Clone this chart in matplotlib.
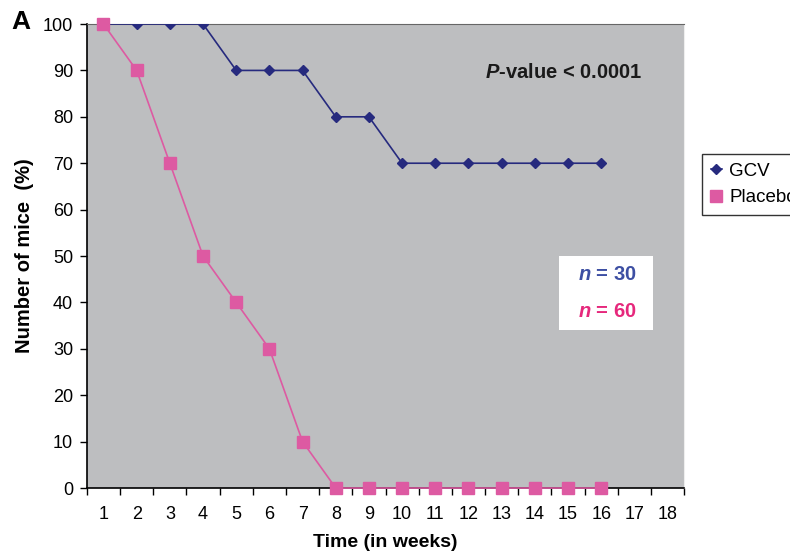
import matplotlib
matplotlib.use("Agg")
import matplotlib.pyplot as plt
from matplotlib.patches import Rectangle

plt.rcParams['font.family'] = ['Liberation Sans', 'DejaVu Sans']
plt.rcParams['mathtext.fontset'] = 'custom'
plt.rcParams['mathtext.bfit'] = 'Liberation Sans:italic:bold'
plt.rcParams['mathtext.bf'] = 'Liberation Sans:bold'
plt.rcParams['mathtext.rm'] = 'Liberation Sans'

# data
weeks = list(range(1, 17))
gcv = [100, 100, 100, 100, 90, 90, 90, 80, 80, 70, 70, 70, 70, 70, 70, 70]
placebo = [100, 90, 70, 50, 40, 30, 10, 0, 0, 0, 0, 0, 0, 0, 0, 0]
x_labels = [str(i) for i in range(1, 19)]
y_ticks = list(range(0, 101, 10))

navy = '#262a7e'
pink = '#dd5aa2'

fig = plt.figure(figsize=(7.9, 5.51), dpi=100)
ax = fig.add_axes([0.110, 0.1143, 0.756, 0.8421])
ax.set_facecolor('#bdbec0')

ax.plot(weeks, gcv, color=navy, lw=1.2, marker='D', ms=5.5,
        mfc=navy, mec=navy, label='GCV', zorder=3)
ax.plot(weeks, placebo, color=pink, lw=1.2, marker='s', ms=9,
        mfc=pink, mec=pink, label='Placebo', zorder=3, clip_on=False)

ax.set_xlim(0.5, 18.5)
ax.set_ylim(0, 100)
ax.set_yticks(y_ticks)
ax.set_xticks(range(1, 19))
ax.set_xticklabels(x_labels)
ax.set_xticks([i + 0.5 for i in range(0, 19)], minor=True)
ax.tick_params(axis='x', which='major', length=0, pad=13, labelsize=13)
ax.tick_params(axis='x', which='minor', length=5, width=1, direction='out')
ax.tick_params(axis='y', length=5, width=1, direction='out', labelsize=13, pad=5)

for s in ['left', 'bottom']:
    ax.spines[s].set_color('black')
    ax.spines[s].set_linewidth(1.2)
ax.spines['top'].set_color('#666666')
ax.spines['right'].set_color('#eeeeee')

ax.set_xlabel('Time (in weeks)', fontsize=14, fontweight='bold', labelpad=8)
ax.set_ylabel('Number of mice  (%)', fontsize=14.5, fontweight='bold', labelpad=6)

ax.text(0.93, 0.895, r'$\mathbfit{P}$-value < 0.0001', transform=ax.transAxes,
        fontsize=14.5, fontweight='bold', ha='right', va='center', color='#1a1a1a')

# n box
box = Rectangle((0.79, 0.341), 0.158, 0.158, transform=ax.transAxes,
                facecolor='white', edgecolor='none', zorder=4)
ax.add_patch(box)
ax.text(0.871, 0.46, r'$\mathbfit{n}$ = 30', transform=ax.transAxes, fontsize=14.5,
        fontweight='bold', color='#3d4fa3', ha='center', va='center', zorder=5)
ax.text(0.871, 0.38, r'$\mathbfit{n}$ = 60', transform=ax.transAxes, fontsize=14.5,
        fontweight='bold', color='#e6287c', ha='center', va='center', zorder=5)

# legend box sits partly past the right edge, as in the original figure
leg = fig.legend(loc='upper left', bbox_to_anchor=(0.877, 0.737), frameon=True,
                 fancybox=False, edgecolor='black', fontsize=13.5, handlelength=0.6,
                 handletextpad=0.4, borderpad=0.45, labelspacing=0.5)
leg.get_frame().set_linewidth(1.0)

fig.text(0.014, 0.96, 'A', fontsize=19, fontweight='bold', va='center')

fig.savefig('out.png', dpi=100)
